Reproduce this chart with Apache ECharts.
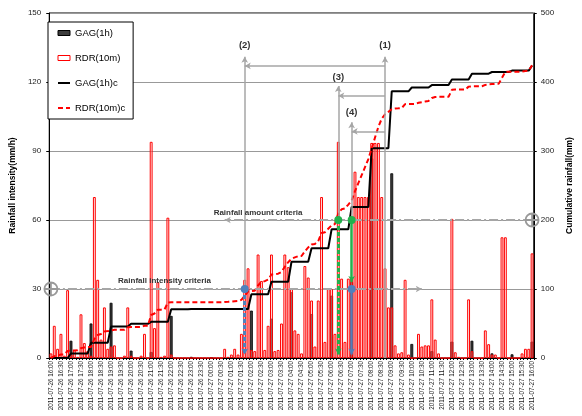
<!DOCTYPE html>
<html>
<head>
<meta charset="utf-8">
<script src="https://cdn.jsdelivr.net/npm/echarts@6/dist/echarts.min.js"></script>
<style>
  html, body { margin: 0; padding: 0; background: #fff; }
  #chart { width: 582px; height: 416px; }
</style>
</head>
<body>
<div id="chart"></div>
<script>
const FONT = '"Liberation Sans", Arial, sans-serif';

// categories: 10-minute steps from 2011-07-26 16:00 to 2011-07-27 16:00
const times = [];
for (let k = 0; k <= 144; k++) {
  const m = 16 * 60 + k * 10;
  const day = m >= 1440 ? '27' : '26';
  const hh = String(Math.floor((m % 1440) / 60)).padStart(2, '0');
  const mm = String(m % 60).padStart(2, '0');
  times.push('2011-07-' + day + ' ' + hh + ':' + mm);
}

// radar 10-min intensity (mm/h), one row per hour
const rdr = [
  2, 14, 4, 10.5, 1, 29.5,
  1.5, 3.5, 0.5, 19, 6.5, 3,
  1, 70, 34, 8, 22, 4,
  5, 5.5, 0, 0, 1, 22,
  1, 0, 0, 1, 10.5, 0,
  94, 13, 33, 0.5, 1, 61,
  1.5, 0, 0, 0, 0, 0,
  0, 0, 0, 0, 0, 0,
  0, 0, 0, 0, 4, 0.5,
  1.5, 4, 1.5, 10.5, 34, 39,
  3.5, 3, 45, 33.5, 3.5, 14,
  45, 3, 3.5, 15, 45, 39.5,
  30, 12, 10.5, 2, 40, 35,
  25, 5, 25, 70, 7, 30,
  30, 10.5, 94, 34.5, 7, 34.5,
  34.5, 81, 70, 70, 70, 70,
  93.5, 93.5, 93.5, 70, 39, 22,
  22, 5.5, 2, 2.5, 34, 1.5,
  0, 0, 10.5, 5, 5.5, 5.5,
  25.5, 8, 2, 0, 0, 0,
  60.5, 2.5, 0.5, 0, 0, 25.5,
  3, 0, 0, 0, 12, 6,
  1.5, 1.5, 0, 52.5, 52.5, 0,
  0, 0, 0, 2, 4, 4,
  45.5
];

// radar cumulative (mm)
const rdrCum = [
  0.3, 2.7, 3.3, 5.1, 5.3, 10.2,
  10.4, 11.0, 11.1, 14.3, 15.3, 15.8,
  16.0, 27.7, 33.3, 34.7, 38.3, 39.0,
  39.8, 40.8, 40.8, 40.8, 40.9, 44.6,
  44.8, 44.8, 44.8, 44.9, 46.7, 46.7,
  62.3, 64.5, 70.0, 70.1, 70.3, 80.4,
  80.7, 80.7, 80.7, 80.7, 80.7, 80.7,
  80.7, 80.7, 80.7, 80.7, 80.7, 80.7,
  80.7, 80.7, 80.7, 80.7, 81.3, 81.4,
  81.7, 82.3, 82.6, 84.3, 90.0, 96.5,
  97.1, 97.6, 105.1, 110.7, 111.3, 113.6,
  121.1, 121.6, 122.2, 124.7, 132.2, 138.8,
  143.8, 145.8, 147.5, 147.8, 154.5, 160.3,
  164.5, 165.3, 169.5, 181.2, 182.3, 187.3,
  192.3, 194.1, 209.8, 215.5, 216.7, 222.4,
  228.2, 241.7, 253.3, 265.0, 276.7, 288.3,
  303.9, 319.5, 335.1, 346.8, 353.3, 356.9,
  360.6, 361.5, 361.8, 362.3, 367.9, 368.2,
  368.2, 368.2, 369.9, 370.8, 371.7, 372.6,
  376.8, 378.2, 378.5, 378.5, 378.5, 378.5,
  388.6, 389.0, 389.1, 389.1, 389.1, 393.3,
  393.8, 393.8, 393.8, 393.8, 395.8, 396.8,
  397.1, 397.3, 397.3, 406.1, 414.8, 414.8,
  414.8, 414.8, 414.8, 415.2, 415.8, 416.5,
  424.1
];

// gauge hourly rainfall (mm), hours ending 17:00 ... 16:00
const gagHourly = [7.5, 15, 24, 3.2, 2.6, 18.3, 0.5, 0, 0, 20.6, 17.1, 28.6,
                   19.1, 27.1, 33, 86.8, 80.3, 6.1, 3, 7.1, 7.5, 2, 1.6, 7.1];

// gauge cumulative (mm) at 10-minute steps
const gagCum = [
  0, 0, 0, 0, 0, 0,
  6.5, 6.5, 6.5, 6.5, 6.5, 6.5,
  22, 22, 22, 22, 22, 22,
  45.5, 45.5, 45.5, 45.5, 45.5, 45.5,
  49.5, 49.5, 49.5, 49.5, 49.5, 49.5,
  52.5, 52.5, 52.5, 52.5, 52.5, 52.5,
  70.5, 70.5, 70.5, 70.5, 70.5, 70.5,
  71, 71, 71, 71, 71, 71,
  71, 71, 71, 71, 71, 71,
  71, 71, 71, 71, 71, 71,
  92.5, 92.5, 92.5, 92.5, 92.5, 92.5,
  110.5, 110.5, 110.5, 110.5, 110.5, 110.5,
  139.5, 139.5, 139.5, 139.5, 139.5, 139.5,
  159, 159, 159, 159, 159, 159,
  186.5, 186.5, 186.5, 186.5, 186.5, 186.5,
  219, 219, 219, 219, 219, 219,
  304, 304, 304, 304, 304, 304,
  386.5, 386.5, 386.5, 386.5, 386.5, 386.5,
  392, 392, 392, 392, 392, 392,
  395.5, 395.5, 395.5, 395.5, 395.5, 395.5,
  403.5, 403.5, 403.5, 403.5, 403.5, 403.5,
  412, 412, 412, 412, 412, 412,
  414.5, 414.5, 414.5, 414.5, 414.5, 414.5,
  416.5, 416.5, 416.5, 416.5, 416.5, 416.5,
  424
];

// criteria and event times
const intensityCriteria = 30;   // mm/h
const amountCriteria = 200;     // mm (right axis)
const t1 = '2011-07-27 08:40';
const t2 = '2011-07-27 01:40';
const t3 = '2011-07-27 06:20';
const t4 = '2011-07-27 07:00';

// hourly gauge values sit on the full-hour categories
const gagBar = times.map((t, i) => (i > 0 && i % 6 === 0) ? gagHourly[i / 6 - 1] : null);

const amountLeft = amountCriteria * 150 / 500;
const GRAY = '#a6a6a6';
const BLUE = '#4f81bd';
const GREEN = '#22b14c';

function seg(a, b, style, endSymbol) {
  return [
    { coord: a, symbol: 'none', lineStyle: style },
    { coord: b, symbol: endSymbol || 'none', lineStyle: style }
  ];
}
const grayLine = { color: GRAY, width: 1.5, type: 'solid' };
const critLine = { color: GRAY, width: 2, type: [9, 3, 2, 3] };

function textMark(coord, text, size) {
  return {
    coord: coord, symbol: 'circle', symbolSize: 1,
    itemStyle: { color: 'rgba(0,0,0,0)' },
    label: { show: true, position: 'inside', formatter: text, fontSize: size, fontWeight: 'bold', color: '#333', fontFamily: FONT }
  };
}
function dot(coord, color) {
  return { coord: coord, symbol: 'circle', symbolSize: 8, itemStyle: { color: color }, label: { show: false } };
}
const crossPath = 'path://M10,0A10,10,0,1,1,9.99,0Z M10,1L10,19 M1,10L19,10';
function cross(coord) {
  return { coord: coord, symbol: crossPath, symbolSize: 13,
    itemStyle: { color: 'rgba(0,0,0,0)', borderColor: '#999', borderWidth: 1.8 }, label: { show: false } };
}

const chart = echarts.init(document.getElementById('chart'), null, { renderer: 'canvas' });
chart.setOption({
  animation: false,
  textStyle: { fontFamily: FONT },
  grid: { left: 42, right: 34, top: 13, bottom: 58, show: true, borderColor: '#000', borderWidth: 1 },
  legend: {
    orient: 'vertical', left: 48, top: 22,
    padding: [6, 8, 6, 9], itemGap: 15, itemWidth: 12, itemHeight: 5,
    borderColor: '#000', borderWidth: 1, backgroundColor: '#fff',
    textStyle: { fontSize: 9.5, color: '#000', fontFamily: FONT },
    data: [
      { name: 'GAG(1h)', icon: 'rect', itemStyle: { color: '#3c3c3c', borderColor: '#000', borderWidth: 1 } },
      { name: 'RDR(10m)', icon: 'rect', itemStyle: { color: '#fff', borderColor: '#ff0000', borderWidth: 1 } },
      { name: 'GAG(1h)c', itemStyle: { opacity: 0 } },
      { name: 'RDR(10m)c', itemStyle: { opacity: 0 } }
    ]
  },
  xAxis: {
    type: 'category', data: times, boundaryGap: true,
    axisLine: { lineStyle: { color: '#000', width: 1 } },
    axisTick: { show: true, interval: 0, length: 2, lineStyle: { color: '#000' } },
    axisLabel: { rotate: 90, interval: 2, fontSize: 6.3, margin: 3, color: '#222', fontFamily: FONT },
    splitLine: { show: false }
  },
  yAxis: [
    {
      type: 'value', min: 0, max: 150, interval: 30, position: 'left',
      name: 'Rainfall intensity(mm/h)', nameLocation: 'middle', nameRotate: 90, nameGap: 30,
      nameTextStyle: { fontSize: 8.5, fontWeight: 'bold', color: '#000', fontFamily: FONT },
      axisLine: { show: true, lineStyle: { color: '#000' } },
      axisTick: { show: true, length: 3, lineStyle: { color: '#000' } },
      axisLabel: { fontSize: 8, margin: 8, color: '#222', fontFamily: FONT },
      splitLine: { show: true, lineStyle: { color: '#999', width: 1 } }
    },
    {
      type: 'value', min: 0, max: 500, interval: 100, position: 'right',
      name: 'Cumulative rainfall(mm)', nameLocation: 'middle', nameRotate: 90, nameGap: 31,
      nameTextStyle: { fontSize: 8.5, fontWeight: 'bold', color: '#000', fontFamily: FONT },
      axisLine: { show: true, lineStyle: { color: '#000' } },
      axisTick: { show: true, length: 3, lineStyle: { color: '#000' } },
      axisLabel: { fontSize: 8, margin: 7, color: '#222', fontFamily: FONT },
      splitLine: { show: false }
    }
  ],
  series: [
    {
      name: 'GAG(1h)', type: 'bar', yAxisIndex: 0, data: gagBar,
      barWidth: '86%', barGap: '-100%',
      itemStyle: { color: '#3c3c3c', borderColor: '#000', borderWidth: 0.8 }
    },
    {
      name: 'RDR(10m)', type: 'bar', yAxisIndex: 0, data: rdr,
      barWidth: '86%', barGap: '-100%',
      itemStyle: { color: 'rgba(255,215,215,0.4)', borderColor: '#ff0000', borderWidth: 1 }
    },
    {
      name: 'GAG(1h)c', type: 'line', yAxisIndex: 1, data: gagCum,
      symbol: 'none', z: 4,
      lineStyle: { color: '#000', width: 2 }, itemStyle: { color: '#000' }
    },
    {
      name: 'RDR(10m)c', type: 'line', yAxisIndex: 1, data: rdrCum,
      symbol: 'none', z: 4,
      lineStyle: { color: '#ff0000', width: 2, type: [5, 3] }, itemStyle: { color: '#ff0000' }
    },
    {
      name: 'annotations', type: 'line', yAxisIndex: 0, z: 5,
      data: times.map(() => null), symbol: 'none', silent: true,
      markLine: {
        silent: true, animation: false, symbolSize: [5, 6],
        label: { show: false },
        data: [
          seg(['2011-07-26 16:00', intensityCriteria], ['2011-07-27 10:30', intensityCriteria], critLine, 'arrow'),
          seg(['2011-07-27 16:00', amountLeft], ['2011-07-27 00:40', amountLeft], critLine, 'arrow'),
          seg([t1, 0], [t1, 131], grayLine, 'arrow'),
          seg([t2, intensityCriteria], [t2, 131], grayLine, 'arrow'),
          seg([t3, amountLeft], [t3, 118.3], grayLine, 'arrow'),
          seg([t4, amountLeft], [t4, 102.5], grayLine, 'arrow'),
          seg([t1, 127], [t2, 127], grayLine, 'arrow'),
          seg([t1, 114], [t3, 114], grayLine, 'arrow'),
          seg([t1, 98.5], [t4, 98.5], grayLine, 'arrow'),
          seg([t2, intensityCriteria], [t2, 1.5], { color: BLUE, width: 3, type: [4, 2] }, 'arrow'),
          seg([t3, amountLeft], [t3, 1.5], { color: GREEN, width: 3, type: [4, 2] }, 'arrow'),
          seg([t4, amountLeft], [t4, 33], { color: GREEN, width: 2.5, type: 'solid' }, 'arrow'),
          seg([t4, intensityCriteria], [t4, 1.5], { color: BLUE, width: 2.5, type: 'solid' }, 'arrow')
        ]
      },
      markPoint: {
        silent: true, animation: false,
        data: [
          cross(['2011-07-26 16:00', intensityCriteria]),
          cross(['2011-07-27 16:00', amountLeft]),
          dot([t2, intensityCriteria], BLUE),
          dot([t4, intensityCriteria], BLUE),
          dot([t3, amountLeft], GREEN),
          dot([t4, amountLeft], GREEN),
          textMark([t1, 136], '(1)', 9.5),
          textMark([t2, 136], '(2)', 9.5),
          textMark([t3, 122], '(3)', 9.5),
          textMark([t4, 107], '(4)', 9.5),
          textMark(['2011-07-26 21:40', 33.5], 'Rainfall intensity criteria', 8),
          textMark(['2011-07-27 02:20', 63.2], 'Rainfall amount criteria', 8)
        ]
      }
    }
  ]
});
</script>
</body>
</html>
